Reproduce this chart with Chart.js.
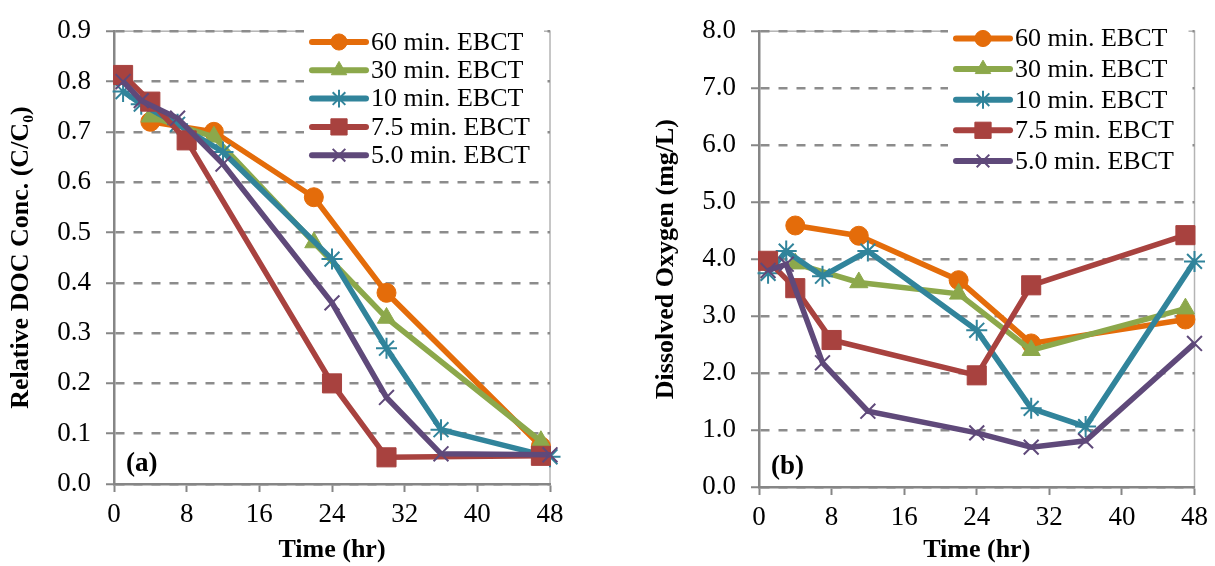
<!DOCTYPE html>
<html>
<head>
<meta charset="utf-8">
<script src="https://cdn.jsdelivr.net/npm/chart.js@4.4.0/dist/chart.umd.min.js"></script>
<style>
  body { margin: 0; background: #fff; }
  #doc-chart { position: absolute; left: 0; top: 0; }
  #do-chart { position: absolute; left: 607px; top: 0; }
</style>
</head>
<body>
<canvas id="doc-chart" width="607" height="566"></canvas>
<canvas id="do-chart" width="608" height="566"></canvas>
<script>
const FONT = "'Liberation Serif', 'Times New Roman', 'DejaVu Serif', serif";

const seriesNames = ['60 min. EBCT', '30 min. EBCT', '10 min. EBCT', '7.5 min. EBCT', '5.0 min. EBCT'];
const seriesColors = ['#E46C0A', '#8CA84B', '#31849B', '#A8423F', '#5F497A'];
const seriesMarkers = ['circle', 'triangle', 'star', 'rect', 'crossRot'];
const markerRadius = [9.5, 10.5, 10.5, 13.5, 10.5];

const xTicks = [0, 8, 16, 24, 32, 40, 48];

// sampling times (hr) per series
const time60 = [4, 11, 22, 30, 47];
const time30 = [4, 11, 22, 30, 47];
const time10 = [1, 3, 7, 12, 24, 30, 36, 48];
const time75 = [1, 4, 8, 24, 30, 47];
const time5 = [1, 3, 7, 12, 24, 30, 36, 48];

// (a) relative DOC conc. C/C0
const doc60 = [0.72, 0.70, 0.57, 0.38, 0.075];
const doc30 = [0.73, 0.69, 0.48, 0.33, 0.085];
const doc10 = [0.78, 0.755, 0.715, 0.66, 0.447, 0.27, 0.108, 0.054];
const doc75 = [0.813, 0.76, 0.683, 0.20, 0.053, 0.056];
const doc5 = [0.80, 0.762, 0.727, 0.636, 0.36, 0.172, 0.06, 0.058];

// (b) dissolved oxygen mg/L
const do60 = [4.59, 4.41, 3.63, 2.52, 2.94];
const do30 = [3.92, 3.59, 3.39, 2.40, 3.13];
const do10 = [3.75, 4.14, 3.70, 4.14, 2.75, 1.38, 1.06, 3.96];
const do75 = [3.97, 3.49, 2.58, 1.96, 3.54, 4.42];
const do5 = [3.80, 3.91, 2.18, 1.33, 0.95, 0.70, 0.81, 2.52];

const docTicks = [0, 0.1, 0.2, 0.3, 0.4, 0.5, 0.6, 0.7, 0.8, 0.9];
const doTicks = [0, 1, 2, 3, 4, 5, 6, 7, 8];

function buildDatasets(times, values) {
  return values.map((vals, i) => ({
    label: seriesNames[i],
    data: vals.map((v, k) => ({ x: times[i][k], y: v })),
    borderColor: seriesColors[i],
    backgroundColor: seriesColors[i],
    pointBackgroundColor: seriesColors[i],
    pointBorderColor: seriesColors[i],
    pointStyle: seriesMarkers[i],
    pointRadius: markerRadius[i],
    pointBorderWidth: (seriesMarkers[i] === 'star' || seriesMarkers[i] === 'crossRot') ? 2 : 1,
    borderWidth: 5.5,
    tension: 0,
    clip: false,
    order: seriesNames.length - i
  }));
}

// frame, legend box and panel letter
const decor = {
  id: 'decor',
  beforeDraw(chart) {
    const { ctx, chartArea: a } = chart;
    ctx.save();
    ctx.strokeStyle = '#b4b4b4';
    ctx.lineWidth = 1.5;
    ctx.strokeRect(a.left, a.top, a.right - a.left, a.bottom - a.top);
    ctx.restore();
  },
  afterDatasetsDraw(chart, args, opts) {
    const { ctx, chartArea: a } = chart;
    const dsets = chart.data.datasets;
    ctx.save();
    ctx.fillStyle = '#fff';
    ctx.fillRect(opts.boxLeft, opts.rowTop - 16, a.right - 6 - opts.boxLeft, opts.rowGap * (dsets.length - 1) + 32);
    dsets.forEach((ds, i) => {
      const y = opts.rowTop + i * opts.rowGap;
      const x0 = opts.boxLeft + 8;
      ctx.strokeStyle = ds.borderColor;
      ctx.lineWidth = 6;
      ctx.lineCap = 'round';
      ctx.beginPath();
      ctx.moveTo(x0, y);
      ctx.lineTo(x0 + 54, y);
      ctx.stroke();
      ctx.fillStyle = ds.pointBackgroundColor;
      ctx.strokeStyle = ds.pointBorderColor;
      ctx.lineWidth = ds.pointBorderWidth;
      ctx.lineCap = 'butt';
      Chart.helpers.drawPoint(ctx, {
        pointStyle: ds.pointStyle,
        radius: ds.pointRadius * 0.85,
        borderWidth: ds.pointBorderWidth,
        rotation: 0
      }, x0 + 27, y);
      ctx.fillStyle = '#000';
      ctx.font = '26px ' + FONT;
      ctx.textBaseline = 'middle';
      ctx.textAlign = 'left';
      ctx.fillText(ds.label, x0 + 59, y + 1);
    });
    ctx.font = 'bold 27px ' + FONT;
    ctx.textBaseline = 'alphabetic';
    ctx.fillText(opts.panel, a.left + 12, a.bottom - 13);
    ctx.restore();
  }
};

function buildOptions(cfg) {
  return {
    responsive: false,
    animation: false,
    events: [],
    layout: { padding: { top: 18, right: cfg.padRight, bottom: 0, left: 0 } },
    plugins: {
      legend: { display: false },
      tooltip: { enabled: false },
      decor: { boxLeft: cfg.boxLeft, rowTop: cfg.rowTop, rowGap: cfg.rowGap, panel: cfg.panel }
    },
    scales: {
      x: {
        type: 'linear',
        min: 0,
        max: 48,
        afterBuildTicks: (s) => { s.ticks = xTicks.map(v => ({ value: v })); },
        afterFit: (s) => { s.height = cfg.xHeight; },
        ticks: { color: '#000', font: { family: FONT, size: 27 }, padding: 7 },
        grid: { drawOnChartArea: false, drawTicks: true, tickLength: 8, tickColor: '#868686', tickWidth: 2 },
        border: { display: true, color: '#868686', width: 2.5 },
        title: { display: true, text: 'Time (hr)', color: '#000', padding: { top: 0, bottom: 0 },
                 font: { family: FONT, size: 26, weight: 'bold', lineHeight: 1.2 } }
      },
      y: {
        min: 0,
        max: cfg.yMax,
        afterBuildTicks: (s) => { s.ticks = cfg.yTicks.map(v => ({ value: v })); },
        afterFit: (s) => { s.width = cfg.yWidth; },
        ticks: { color: '#000', font: { family: FONT, size: 27 }, padding: 15,
                 callback: (v) => Number(v).toFixed(1) },
        grid: { color: '#8c8c8c', lineWidth: 2.5, drawTicks: true, tickLength: 8,
                tickColor: '#868686', tickWidth: 2, tickBorderDash: [] },
        border: { display: true, color: '#868686', width: 2.5, dash: [9, 9] },
        title: { display: true, text: cfg.yTitle, color: '#000', padding: { top: cfg.titlePad, bottom: 0 },
                 font: { family: FONT, size: 26, weight: 'bold', lineHeight: 1.2 } }
      }
    }
  };
}

const allTimes = [time60, time30, time10, time75, time5];

new Chart(document.getElementById('doc-chart'), {
  type: 'line',
  data: { datasets: buildDatasets(allTimes, [doc60, doc30, doc10, doc75, doc5]) },
  options: buildOptions({
    yMax: 0.9, yTicks: docTicks, yTitle: 'Relative DOC Conc. (C/C\u2080)',
    yWidth: 114, xHeight: 82, padRight: 57, titlePad: 6,
    boxLeft: 304, rowTop: 42, rowGap: 28.3, panel: '(a)'
  }),
  plugins: [decor]
});

new Chart(document.getElementById('do-chart'), {
  type: 'line',
  data: { datasets: buildDatasets(allTimes, [do60, do30, do10, do75, do5]) },
  options: buildOptions({
    yMax: 8, yTicks: doTicks, yTitle: 'Dissolved Oxygen (mg/L)',
    yWidth: 152, xHeight: 79, padRight: 17, titlePad: 44,
    boxLeft: 341, rowTop: 38.5, rowGap: 30.6, panel: '(b)'
  }),
  plugins: [decor]
});
</script>
</body>
</html>
